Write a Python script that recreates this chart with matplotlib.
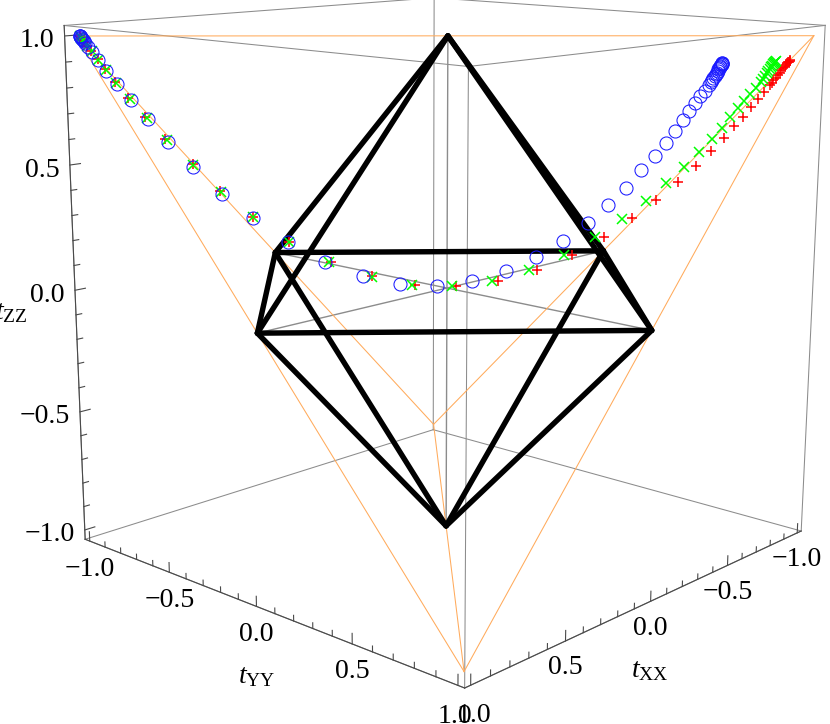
import matplotlib
matplotlib.use("Agg")
import matplotlib.pyplot as plt
from mpl_toolkits.mplot3d import proj3d

# t_zz and t_yy, each series lies in the plane t_xx = -t_yy
blue_yy = [-.990, -.989, -.988, -.987, -.986, -.984, -.982, -.979, -.976, -.968, -.958, -.942, -.923, -.894, -.858,
           -.814, -.761, -.695, -.619, -.535, -.439, -.339, -.235, -.131, -.028, .070, .164, .248, .322, .390, .446,
           .495, .536, .573, .603, .627, .648, .665, .680, .694, .706,
           .717, .721, .724, .728, .731, .734, .736, .739, .741, .743, .745, .746, .747, .749, .750, .751, .751]
blue_zz = [1.000, .999, .998, .995, .992, .989, .985, .979, .973, .958, .939, .909, .867, .817, .754,
           .678, .589, .491, .385, .286, .190, .109, .050, .016, .009, .030, .068, .123, .190, .262, .333,
           .402, .471, .530, .581, .628, .671, .705, .736, .764, .786,
           .809, .820, .829, .837, .844, .851, .857, .863, .869, .874, .878, .882, .886, .889, .892, .894, .896]

green_yy = [-.988, -.986, -.982, -.977, -.971, -.959, -.943, -.923, -.896, -.862, -.818, -.766, -.695, -.621,
            -.535, -.437, -.327, -.210, -.097, .014, .126, .230, .326, .411, .486, .552, .607, .656, .696, .729,
            .758, .779, .800, .816, .832, .846,
            .859, .865, .871, .875, .879, .883, .886, .889, .891, .893, .895, .897, .899]
green_zz = [.999, .994, .986, .977, .962, .941, .909, .871, .821, .759, .684, .597, .497, .393,
            .290, .191, .108, .047, .013, .007, .026, .070, .130, .203, .275, .350, .420, .484, .543, .597,
            .639, .682, .717, .745, .771, .797,
            .821, .833, .844, .854, .863, .871, .878, .884, .889, .893, .896, .899, .902]

red_yy = [-.990, -.987, -.983, -.978, -.972, -.961, -.944, -.926, -.899, -.866, -.823, -.769, -.697, -.623,
          -.535, -.437, -.323, -.208, -.090, .026, .143, .251, .349, .436, .514, .580, .638, .687, .727, .762,
          .791, .815, .836, .854, .870,
          .884, .889, .894, .900, .905, .910, .915, .919, .923, .926, .929, .932, .935, .937, .938]
red_zz = [.999, .994, .986, .977, .962, .944, .911, .873, .823, .761, .686, .601, .501, .395,
          .292, .191, .109, .049, .013, .008, .028, .073, .133, .203, .279, .353, .424, .487, .546, .601,
          .645, .683, .721, .753, .780,
          .806, .817, .827, .837, .846, .856, .865, .873, .880, .886, .892, .896, .899, .903, .906]

octa_pts = {"xp": (1, 0, 0), "xm": (-1, 0, 0), "yp": (0, 1, 0), "ym": (0, -1, 0), "zp": (0, 0, 1), "zm": (0, 0, -1)}
octa_edges = [("xp", "yp"), ("yp", "xm"), ("xm", "ym"), ("ym", "xp"),
              ("zp", "xp"), ("zp", "yp"), ("zp", "xm"), ("zp", "ym"),
              ("zm", "xp"), ("zm", "yp"), ("zm", "xm"), ("zm", "ym")]
tetra_pts = [(1, -1, 1), (-1, 1, 1), (1, 1, -1), (-1, -1, -1)]

major_ticks = [-1.0, -0.5, 0.0, 0.5, 1.0]
minor_ticks = [-.9, -.8, -.7, -.6, -.4, -.3, -.2, -.1, .1, .2, .3, .4, .6, .7, .8, .9]
tick_text = ["\u22121.0", "\u22120.5", "0.0", "0.5", "1.0"]

B = 1.03  # box reaches a bit past +-1
BZ = 1.04

plt.rcParams["font.family"] = "Liberation Serif"
plt.rcParams["mathtext.fontset"] = "custom"
plt.rcParams["mathtext.rm"] = "Liberation Serif"
plt.rcParams["mathtext.it"] = "Liberation Serif:italic"

W, H = 830, 724
size = 878
fig = plt.figure(figsize=(W / 100, H / 100), dpi=100)
ax = fig.add_axes([-3.9 / W, -14.9 / H, size / W, size / H], projection="3d", computed_zorder=False)
ax.set_xlim(-B, B, view_margin=0)
ax.set_ylim(-B, B, view_margin=0)
ax.set_zlim(-BZ, BZ, view_margin=0)
ax.set_box_aspect((1, 1, 1))
ax.view_init(elev=12.8, azim=42.5, roll=-0.21)
ax.set_proj_type("persp", focal_length=0.40)
ax.set_axis_off()
M = ax.get_proj()


def seg(p, q, **kw):
    ax.plot([p[0], q[0]], [p[1], q[1]], [p[2], q[2]], **kw)


def label(txt, p, dx, dy, ha="center"):
    px, py, _ = proj3d.proj_transform(p[0], p[1], p[2], M)
    ax.annotate(txt, xy=(px, py), xycoords="data", xytext=(dx, dy), textcoords="offset pixels",
                ha=ha, va="center", fontsize=20, color="black")


# box
gray = dict(color="#8c8c8c", lw=0.75, zorder=1)
for a in (-B, B):
    for b in (-BZ, BZ):
        seg((-B, a, b), (B, a, b), **gray)
        seg((a, -B, b), (a, B, b), **gray)
    for b in (-B, B):
        seg((a, b, -BZ), (a, b, BZ), **gray)

# axes through the origin
for p in ("x", "y", "z"):
    seg(octa_pts[p + "p"], octa_pts[p + "m"], color="#8c8c8c", lw=1.0, zorder=1.5)

# tetrahedron
for i in range(4):
    for j in range(i + 1, 4):
        seg(tetra_pts[i], tetra_pts[j], color="#ffab5c", lw=0.75, zorder=2)

# octahedron
for a, b in octa_edges:
    seg(octa_pts[a], octa_pts[b], color="black", lw=3.9, zorder=3, solid_capstyle="round")

# visible axes edges and ticks
dark = dict(color="#4a4a4a", lw=0.8, zorder=4)
seg((B, -B, -BZ), (B, B, -BZ), **dark)
seg((-B, B, -BZ), (B, B, -BZ), **dark)
seg((B, -B, -BZ), (B, -B, BZ), **dark)
for ticks, ln in ((major_ticks, 0.04), (minor_ticks, 0.022)):
    for t in ticks:
        seg((B, t, -BZ), (B, t, -BZ + ln), **dark)
        seg((t, B, -BZ), (t, B, -BZ + ln), **dark)
        seg((B, -B, t), (B - 1.25 * ln, -B, t), **dark)

for t, s in zip(major_ticks, tick_text):
    # the two 1.0 labels sit lower and further apart in the reference
    extra = -3 if t == 1.0 else 0
    spread = 3 if t == 1.0 else 0
    label(s, (B, t, -BZ), -spread, -28 + extra)
    label(s, (t, B, -BZ), spread, -27 + extra)
    label(s, (B, -B, t), -10, -5, ha="right")

label(r"$t_{\mathrm{YY}}$", (B, 0, -BZ), 0, -70)
label(r"$t_{\mathrm{XX}}$", (0, B, -BZ), -1, -69)
label(r"$t_{\mathrm{ZZ}}$", (B, -B, 0), -64, -22)

# data
ax.plot([-v for v in red_yy], red_yy, red_zz, ls="", marker="+", ms=7.5, mew=1.1, color="#ff0000", zorder=5)
ax.plot([-v for v in green_yy], green_yy, green_zz, ls="", marker="x", ms=7.5, mew=1.1, color="#00ff00", zorder=6)
ax.plot([-v for v in blue_yy], blue_yy, blue_zz, ls="", marker="o", ms=9.4, mew=0.75, mfc="none", color="#1a1aff", zorder=7)

fig.savefig("out.png", dpi=100)
